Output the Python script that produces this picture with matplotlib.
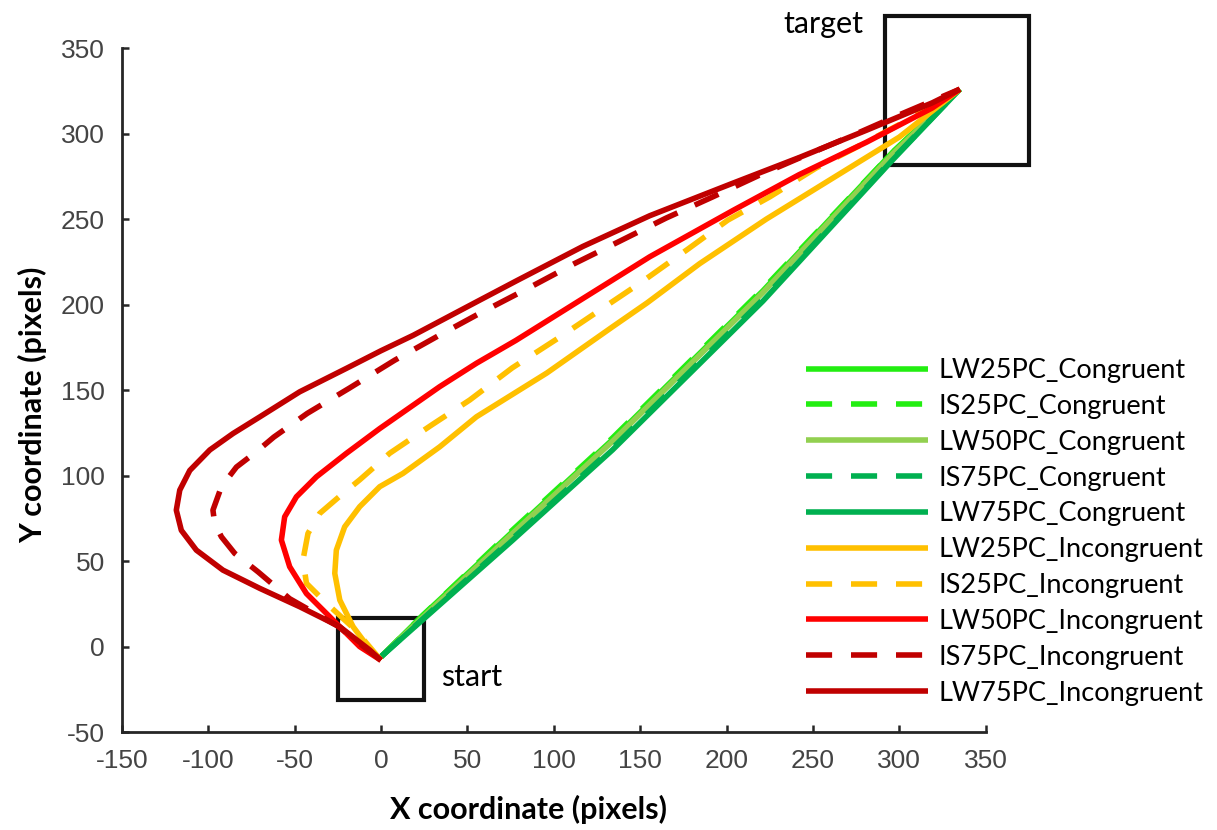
import numpy as np
import matplotlib.pyplot as plt
from matplotlib.patches import Rectangle

plt.rcParams["axes.unicode_minus"] = False

# mean trajectories (x, y in pixels)
labels = ["LW25PC_Congruent", "IS25PC_Congruent", "LW50PC_Congruent", "IS75PC_Congruent",
          "LW75PC_Congruent", "LW25PC_Incongruent", "IS25PC_Incongruent",
          "LW50PC_Incongruent", "IS75PC_Incongruent", "LW75PC_Incongruent"]
colors = ["#22EE11", "#22EE11", "#92D050", "#00B050", "#00B050",
          "#FFC000", "#FFC000", "#FF0000", "#C00000", "#C00000"]
dashed = [False, True, False, True, False, False, True, False, True, False]

lw25_con_x = [0, 24, 76, 134, 192, 221, 296, 335]
lw25_con_y = [-6, 18, 67, 121, 179, 208, 289, 326]
is25_con_x = [0, 24, 76, 134, 192, 221, 296, 335]
is25_con_y = [-6, 18, 68, 122, 180, 209, 289, 326]
lw50_con_x = [0, 24, 76, 134, 192, 221, 296, 335]
lw50_con_y = [-6, 17, 66, 120, 178, 207, 288, 326]
is75_con_x = [0, 24, 76, 134, 192, 221, 296, 335]
is75_con_y = [-6, 16, 63, 116, 174, 203, 285, 326]
lw75_con_x = [0, 24, 76, 134, 192, 221, 296, 335]
lw75_con_y = [-6, 15.5, 62, 115, 173, 202, 284.5, 326]

lw25_inc_x = [0, -4.6, -16.1, -23.8, -26.7, -25.8, -21, -12.3, -0.7, 12.8, 34, 55.3,
              96, 134, 154, 184.5, 223, 261.5, 300, 335]
lw25_inc_y = [-8, -4, 11.6, 27.2, 42.8, 56.4, 70, 81.8, 93.5, 101.3, 116.8, 134.4,
              160, 187, 201, 224, 250, 274, 298, 326]
is25_inc_x = [0, -15, -31.5, -43.1, -45.1, -42.2, -35.4, -21.9, -12.3, 1.2, 5, 29.2,
              51.4, 76, 102, 127, 150, 177, 200.7, 225, 252, 277, 305, 335]
is25_inc_y = [-8, 10, 25.3, 37, 50.6, 66.2, 77.9, 89.6, 97.5, 109.5, 113, 129.5,
              144.2, 163, 180, 197, 212.6, 232, 249.4, 263, 280, 293, 308, 326]
lw50_inc_x = [0, -12.3, -27.7, -43.1, -52.8, -57.6, -55.7, -48.9, -37.3, -20, -0.7,
              34, 55.3, 78, 116, 155.6, 203.6, 242, 281, 319, 335]
lw50_inc_y = [-8, 0, 15.5, 31, 46.7, 62.3, 75.9, 87.6, 99.3, 113, 127.5,
              152, 165.7, 179, 203, 228, 255, 276, 295, 315, 326]
is75_inc_x = [0, -25, -52.8, -71.1, -84.6, -92.3, -96.2, -97.2, -92.3, -83.6, -72,
              -62, -42.6, -18.5, 8, 34, 55.3, 86, 112, 138, 165, 192, 219, 246,
              273, 300, 335]
is75_inc_y = [-8, 12, 28, 43.7, 54.5, 64.2, 72, 79.8, 93.5, 105, 114,
              122.5, 136.4, 151, 167.5, 182.2, 193.9, 210, 224, 237, 250.6, 263, 275.7, 287.4,
              299, 311, 326]
lw75_inc_x = [0, -6.5, -23.8, -47, -70, -91.4, -106.8, -115.5, -118.4, -116.4, -110.6,
              -99, -85.6, -70, -47, -20, 0, 18.6, 55.3, 78.6, 116.8, 155.6, 203.6, 242,
              281, 319, 335]
lw75_inc_y = [-8, -2, 11.6, 23.3, 34, 44.7, 56.4, 68, 79.8, 91.5, 103,
              115, 124.6, 134.4, 149, 162.7, 173, 182, 201.6, 214, 234, 252, 271, 286,
              302, 318, 326]

xs = [lw25_con_x, is25_con_x, lw50_con_x, is75_con_x, lw75_con_x,
      lw25_inc_x, is25_inc_x, lw50_inc_x, is75_inc_x, lw75_inc_x]
ys = [lw25_con_y, is25_con_y, lw50_con_y, is75_con_y, lw75_con_y,
      lw25_inc_y, is25_inc_y, lw50_inc_y, is75_inc_y, lw75_inc_y]

fig = plt.figure(figsize=(12.17, 8.30), dpi=100)
ax = fig.add_axes([0.100, 0.118, 0.710, 0.824])

for x, y, c, d, lab in zip(xs, ys, colors, dashed, labels):
    line, = ax.plot(x, y, color=c, lw=4, label=lab, solid_capstyle="butt",
                    solid_joinstyle="round")
    if d:
        line.set_dashes((4.7, 3.4))

# start / target boxes
ax.add_patch(Rectangle((-25, -31), 50, 48, fill=False, lw=3, ec="#111111", clip_on=False))
ax.add_patch(Rectangle((291.5, 281.5), 83.5, 87.5, fill=False, lw=3, ec="#111111", clip_on=False))
ax.text(35, -18, "start", fontsize=22, family="Lato", va="center", ha="left")
ax.text(233, 364, "target", fontsize=22, family="Lato", va="center", ha="left")

ax.set_xlim(-150, 350)
ax.set_ylim(-50, 350)
ax.set_xticks(np.arange(-150, 351, 50))
ax.set_yticks(np.arange(-50, 351, 50))
ax.spines["top"].set_visible(False)
ax.spines["right"].set_visible(False)
for s in ["left", "bottom"]:
    ax.spines[s].set_linewidth(2)
    ax.spines[s].set_color("#262626")
ax.tick_params(direction="in", length=5, width=1.8, color="#262626",
               labelsize=19, labelcolor="#444444", pad=12)
for t in ax.get_xticklabels() + ax.get_yticklabels():
    t.set_family("Liberation Sans")

ax.set_xlabel("X coordinate (pixels)", fontsize=22, family="Lato", fontweight="bold")
ax.set_ylabel("Y coordinate (pixels)", fontsize=22, family="Lato", fontweight="bold")
ax.xaxis.set_label_coords(0.471, -0.092)
ax.yaxis.set_label_coords(-0.086, 0.478)

leg = ax.legend(loc="upper left", bbox_to_anchor=(806 / 1217, 1 - 358 / 830),
                bbox_transform=fig.transFigure, frameon=False, borderpad=0,
                borderaxespad=0, handlelength=4.5, handletextpad=0.4,
                labelspacing=0.40, prop={"family": "Lato", "size": 19.5})

fig.savefig("out.png", dpi=100)
